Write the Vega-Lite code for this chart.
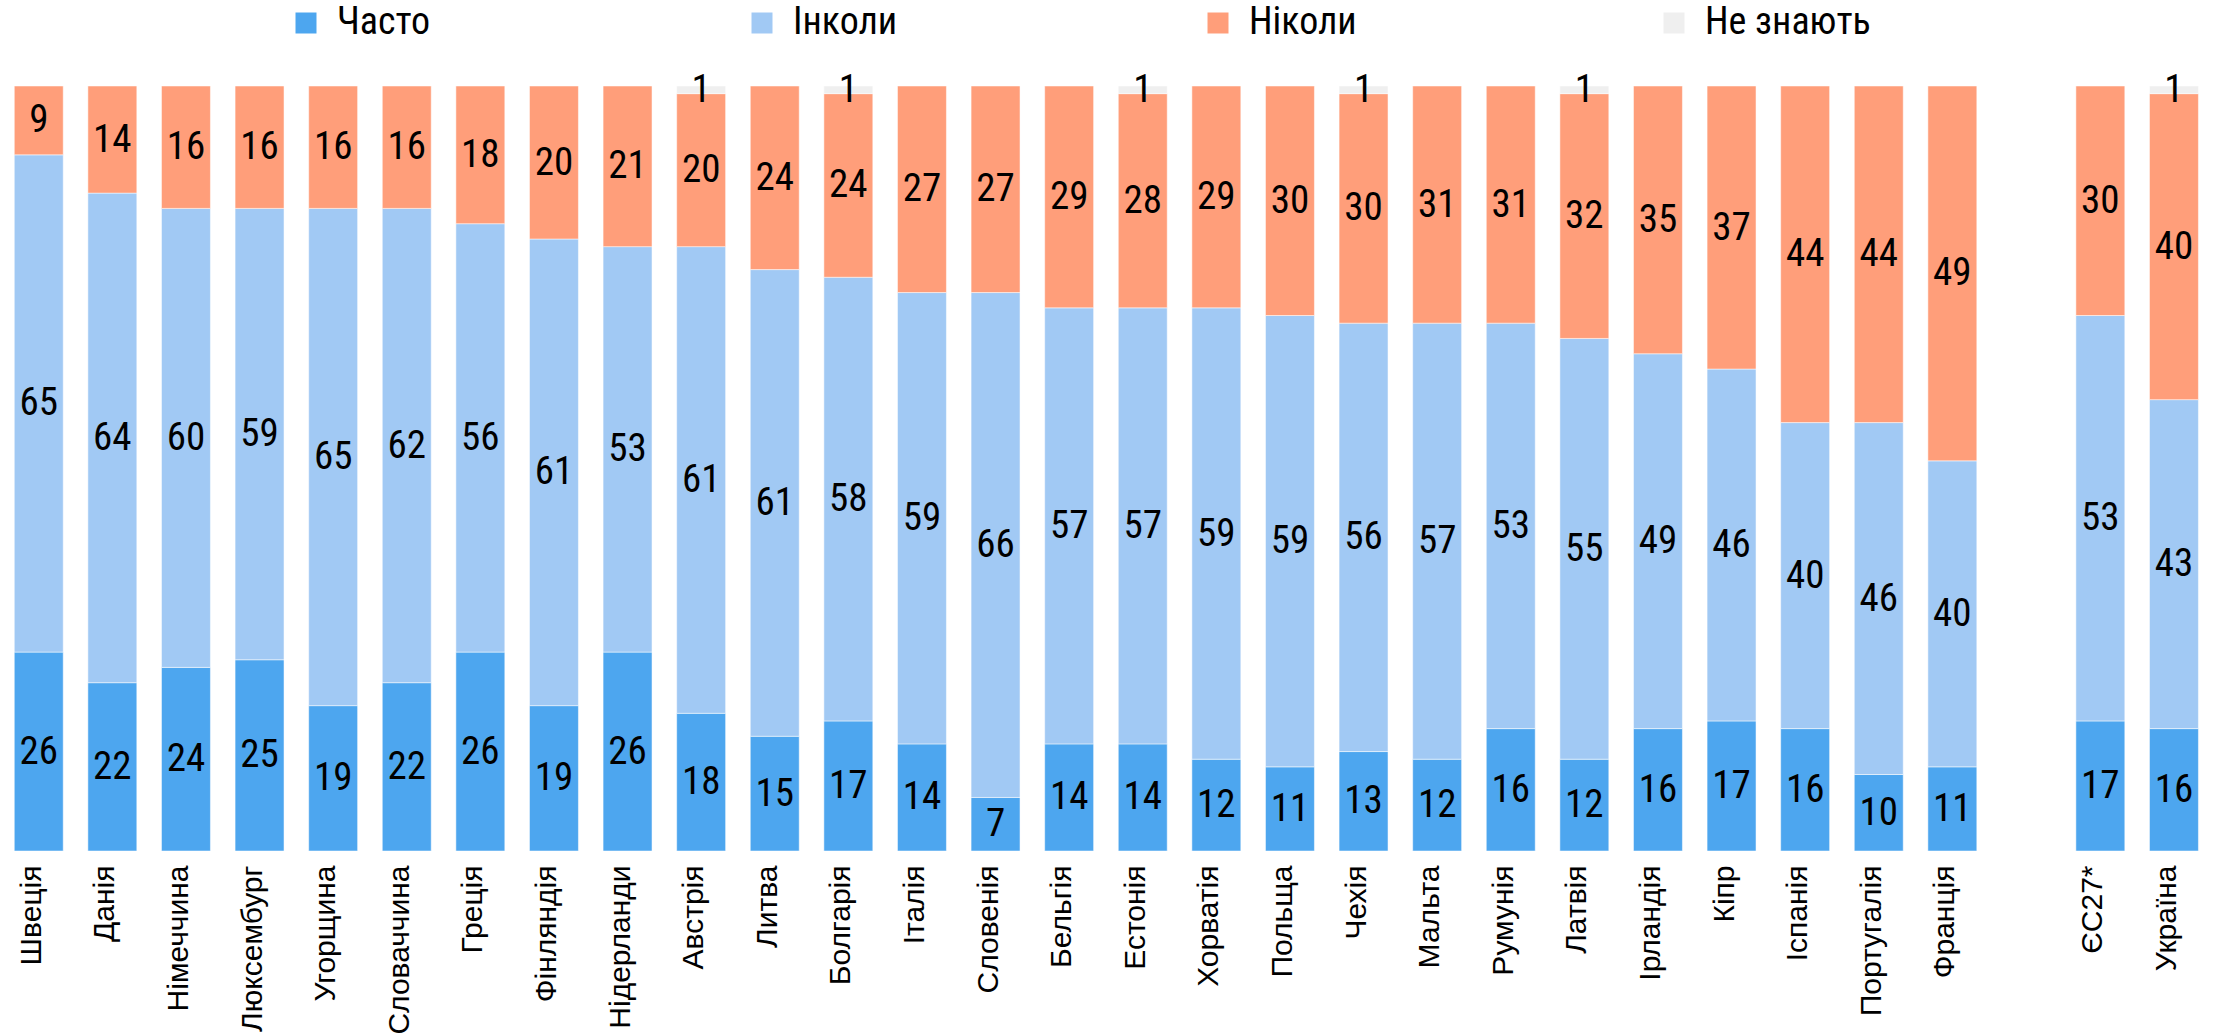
{
  "$schema": "https://vega.github.io/schema/vega-lite/v6.json",
  "padding": {"left": 0, "top": 4, "right": 0, "bottom": 0},
  "bounds": "flush",
  "spacing": 69.6,
  "background": "white",
  "datasets": {
    "d": [
      {"c": "Швеція", "k": "Часто", "v": 26}, {"c": "Швеція", "k": "Інколи", "v": 65}, {"c": "Швеція", "k": "Ніколи", "v": 9},
      {"c": "Данія", "k": "Часто", "v": 22}, {"c": "Данія", "k": "Інколи", "v": 64}, {"c": "Данія", "k": "Ніколи", "v": 14},
      {"c": "Німеччина", "k": "Часто", "v": 24}, {"c": "Німеччина", "k": "Інколи", "v": 60}, {"c": "Німеччина", "k": "Ніколи", "v": 16},
      {"c": "Люксембург", "k": "Часто", "v": 25}, {"c": "Люксембург", "k": "Інколи", "v": 59}, {"c": "Люксембург", "k": "Ніколи", "v": 16},
      {"c": "Угорщина", "k": "Часто", "v": 19}, {"c": "Угорщина", "k": "Інколи", "v": 65}, {"c": "Угорщина", "k": "Ніколи", "v": 16},
      {"c": "Словаччина", "k": "Часто", "v": 22}, {"c": "Словаччина", "k": "Інколи", "v": 62}, {"c": "Словаччина", "k": "Ніколи", "v": 16},
      {"c": "Греція", "k": "Часто", "v": 26}, {"c": "Греція", "k": "Інколи", "v": 56}, {"c": "Греція", "k": "Ніколи", "v": 18},
      {"c": "Фінляндія", "k": "Часто", "v": 19}, {"c": "Фінляндія", "k": "Інколи", "v": 61}, {"c": "Фінляндія", "k": "Ніколи", "v": 20},
      {"c": "Нідерланди", "k": "Часто", "v": 26}, {"c": "Нідерланди", "k": "Інколи", "v": 53}, {"c": "Нідерланди", "k": "Ніколи", "v": 21},
      {"c": "Австрія", "k": "Часто", "v": 18}, {"c": "Австрія", "k": "Інколи", "v": 61}, {"c": "Австрія", "k": "Ніколи", "v": 20}, {"c": "Австрія", "k": "Не знають", "v": 1},
      {"c": "Литва", "k": "Часто", "v": 15}, {"c": "Литва", "k": "Інколи", "v": 61}, {"c": "Литва", "k": "Ніколи", "v": 24},
      {"c": "Болгарія", "k": "Часто", "v": 17}, {"c": "Болгарія", "k": "Інколи", "v": 58}, {"c": "Болгарія", "k": "Ніколи", "v": 24}, {"c": "Болгарія", "k": "Не знають", "v": 1},
      {"c": "Італія", "k": "Часто", "v": 14}, {"c": "Італія", "k": "Інколи", "v": 59}, {"c": "Італія", "k": "Ніколи", "v": 27},
      {"c": "Словенія", "k": "Часто", "v": 7}, {"c": "Словенія", "k": "Інколи", "v": 66}, {"c": "Словенія", "k": "Ніколи", "v": 27},
      {"c": "Бельгія", "k": "Часто", "v": 14}, {"c": "Бельгія", "k": "Інколи", "v": 57}, {"c": "Бельгія", "k": "Ніколи", "v": 29},
      {"c": "Естонія", "k": "Часто", "v": 14}, {"c": "Естонія", "k": "Інколи", "v": 57}, {"c": "Естонія", "k": "Ніколи", "v": 28}, {"c": "Естонія", "k": "Не знають", "v": 1},
      {"c": "Хорватія", "k": "Часто", "v": 12}, {"c": "Хорватія", "k": "Інколи", "v": 59}, {"c": "Хорватія", "k": "Ніколи", "v": 29},
      {"c": "Польща", "k": "Часто", "v": 11}, {"c": "Польща", "k": "Інколи", "v": 59}, {"c": "Польща", "k": "Ніколи", "v": 30},
      {"c": "Чехія", "k": "Часто", "v": 13}, {"c": "Чехія", "k": "Інколи", "v": 56}, {"c": "Чехія", "k": "Ніколи", "v": 30}, {"c": "Чехія", "k": "Не знають", "v": 1},
      {"c": "Мальта", "k": "Часто", "v": 12}, {"c": "Мальта", "k": "Інколи", "v": 57}, {"c": "Мальта", "k": "Ніколи", "v": 31},
      {"c": "Румунія", "k": "Часто", "v": 16}, {"c": "Румунія", "k": "Інколи", "v": 53}, {"c": "Румунія", "k": "Ніколи", "v": 31},
      {"c": "Латвія", "k": "Часто", "v": 12}, {"c": "Латвія", "k": "Інколи", "v": 55}, {"c": "Латвія", "k": "Ніколи", "v": 32}, {"c": "Латвія", "k": "Не знають", "v": 1},
      {"c": "Ірландія", "k": "Часто", "v": 16}, {"c": "Ірландія", "k": "Інколи", "v": 49}, {"c": "Ірландія", "k": "Ніколи", "v": 35},
      {"c": "Кіпр", "k": "Часто", "v": 17}, {"c": "Кіпр", "k": "Інколи", "v": 46}, {"c": "Кіпр", "k": "Ніколи", "v": 37},
      {"c": "Іспанія", "k": "Часто", "v": 16}, {"c": "Іспанія", "k": "Інколи", "v": 40}, {"c": "Іспанія", "k": "Ніколи", "v": 44},
      {"c": "Португалія", "k": "Часто", "v": 10}, {"c": "Португалія", "k": "Інколи", "v": 46}, {"c": "Португалія", "k": "Ніколи", "v": 44},
      {"c": "Франція", "k": "Часто", "v": 11}, {"c": "Франція", "k": "Інколи", "v": 40}, {"c": "Франція", "k": "Ніколи", "v": 49},
      {"c": "ЄС27*", "k": "Часто", "v": 17}, {"c": "ЄС27*", "k": "Інколи", "v": 53}, {"c": "ЄС27*", "k": "Ніколи", "v": 30},
      {"c": "Україна", "k": "Часто", "v": 16}, {"c": "Україна", "k": "Інколи", "v": 43}, {"c": "Україна", "k": "Ніколи", "v": 40}, {"c": "Україна", "k": "Не знають", "v": 1}
    ]
  },
  "hconcat": [
    {
      "data": {"name": "d"},
      "transform": [
        {"filter": {"not": {"field": "c", "oneOf": ["ЄС27*", "Україна"]}}},
        {"calculate": "indexof(['Часто','Інколи','Ніколи','Не знають'], datum.k)", "as": "o"}
      ],
      "width": {"step": 73.6},
      "height": 765,
      "encoding": {
        "x": {"field": "c", "type": "nominal", "sort": null, "title": null,
              "scale": {"paddingInner": 0.335, "paddingOuter": 0.194}},
        "y": {"field": "v", "type": "quantitative", "stack": "zero", "axis": null,
              "scale": {"domain": [0, 100], "nice": false}},
        "color": {"field": "k", "type": "nominal", "sort": ["Часто", "Інколи", "Ніколи", "Не знають"],
                  "scale": {"domain": ["Часто", "Інколи", "Ніколи", "Не знають"], "range": ["#4da6ef", "#a1c9f4", "#ff9e7a", "#efefef"]}},
        "order": {"field": "o", "type": "quantitative", "sort": "ascending"}
      },
      "layer": [
        {"mark": {"type": "bar", "stroke": "#ffffff", "strokeWidth": 1, "strokeOpacity": 0.5}},
        {"mark": {"type": "text", "fontSize": 39, "font": "Roboto Condensed, Liberation Sans Narrow, Roboto", "baseline": "middle", "align": "center"},
         "encoding": {
           "y": {"field": "v", "type": "quantitative", "stack": "zero", "bandPosition": 0.5},
           "text": {"field": "v", "type": "quantitative"},
           "fill": {"value": "#000000"}
         }}
      ]
    },
    {
      "data": {"name": "d"},
      "transform": [
        {"filter": {"field": "c", "oneOf": ["ЄС27*", "Україна"]}},
        {"calculate": "indexof(['Часто','Інколи','Ніколи','Не знають'], datum.k)", "as": "o"}
      ],
      "width": {"step": 73.6},
      "height": 765,
      "encoding": {
        "x": {"field": "c", "type": "nominal", "sort": null, "title": null,
              "scale": {"paddingInner": 0.335, "paddingOuter": 0.194}},
        "y": {"field": "v", "type": "quantitative", "stack": "zero", "axis": null,
              "scale": {"domain": [0, 100], "nice": false}},
        "color": {"field": "k", "type": "nominal", "sort": ["Часто", "Інколи", "Ніколи", "Не знають"],
                  "scale": {"domain": ["Часто", "Інколи", "Ніколи", "Не знають"], "range": ["#4da6ef", "#a1c9f4", "#ff9e7a", "#efefef"]}},
        "order": {"field": "o", "type": "quantitative", "sort": "ascending"}
      },
      "layer": [
        {"mark": {"type": "bar", "stroke": "#ffffff", "strokeWidth": 1, "strokeOpacity": 0.5}},
        {"mark": {"type": "text", "fontSize": 39, "font": "Roboto Condensed, Liberation Sans Narrow, Roboto", "baseline": "middle", "align": "center"},
         "encoding": {
           "y": {"field": "v", "type": "quantitative", "stack": "zero", "bandPosition": 0.5},
           "text": {"field": "v", "type": "quantitative"},
           "fill": {"value": "#000000"}
         }}
      ]
    }
  ],
  "resolve": {"scale": {"x": "independent", "color": "shared"}, "legend": {"color": "shared"}},
  "config": {
    "view": {"stroke": null},
    "axisX": {
      "labelAngle": -90, "labelFont": "Liberation Sans, Arial", "labelFontSize": 30, "labelColor": "#000000",
      "labelBaseline": "alphabetic", "labelAlign": "right", "labelPadding": 14, "labelOffset": 2,
      "domain": false, "ticks": false, "grid": false, "labelLimit": 400, "labelOverlap": false
    },
    "legend": {
      "orient": "none", "legendX": 287, "legendY": -82,
      "direction": "horizontal", "columns": 4, "gridAlign": "all", "columnPadding": 240,
      "title": null, "symbolType": "square", "symbolSize": 441, "symbolStrokeWidth": 0,
      "labelFont": "Roboto Condensed, Liberation Sans Narrow, Roboto", "labelFontSize": 38, "labelColor": "#000000",
      "labelOffset": 12, "padding": 0, "labelLimit": 400
    }
  }
}
